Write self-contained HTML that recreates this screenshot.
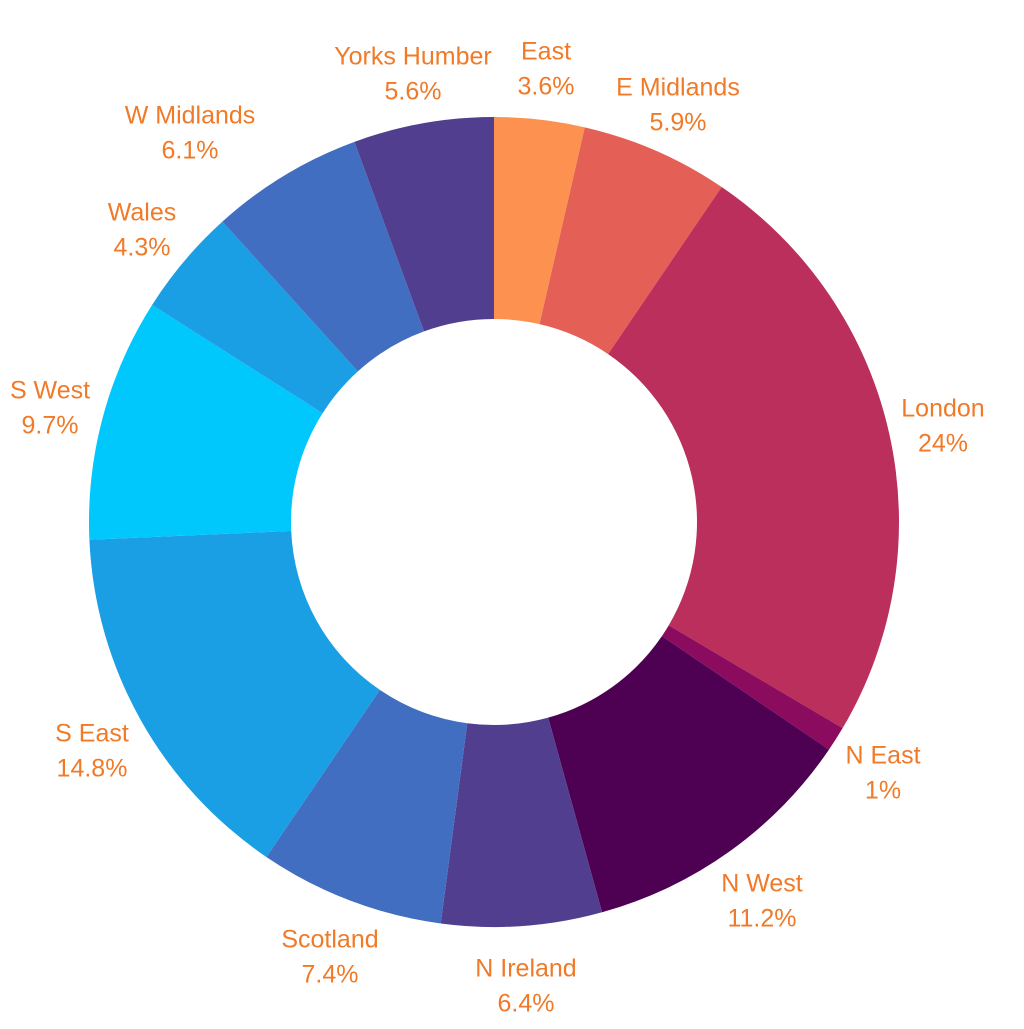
<!DOCTYPE html>
<html><head><meta charset="utf-8"><style>
html,body{margin:0;padding:0;background:#fff;}
svg text{font-family:"Liberation Sans",sans-serif;font-size:25px;fill:#F07A28;text-anchor:middle;dominant-baseline:middle;}
</style></head><body>
<svg id="c" width="1024" height="1024" viewBox="0 0 1024 1024" xmlns="http://www.w3.org/2000/svg">
<g id="s"></g>
<g transform="translate(0,3)">
<text x="413" y="55">Yorks Humber</text><text x="413" y="90">5.6%</text>
<text x="546" y="50">East</text><text x="546" y="85">3.6%</text>
<text x="678" y="86">E Midlands</text><text x="678" y="121">5.9%</text>
<text x="190" y="114">W Midlands</text><text x="190" y="149">6.1%</text>
<text x="142" y="211">Wales</text><text x="142" y="246">4.3%</text>
<text x="50" y="389">S West</text><text x="50" y="424">9.7%</text>
<text x="943" y="407">London</text><text x="943" y="442">24%</text>
<text x="883" y="754">N East</text><text x="883" y="789">1%</text>
<text x="762" y="882">N West</text><text x="762" y="917">11.2%</text>
<text x="526" y="967">N Ireland</text><text x="526" y="1002">6.4%</text>
<text x="330" y="938">Scotland</text><text x="330" y="973">7.4%</text>
<text x="92" y="732">S East</text><text x="92" y="767">14.8%</text>
</g>
</svg>
<script>
var d=[[3.6,"#FD9150"],[5.9,"#E45F56"],[24,"#BA2F5C"],[1,"#8B0B5E"],[11.2,"#4E0052"],[6.4,"#523E8E"],[7.4,"#416EC0"],[14.8,"#1B9FE4"],[9.7,"#00C8FC"],[4.3,"#1B9FE4"],[6.1,"#416EC0"],[5.6,"#523E8E"]];
var cx=494,cy=522,R=405,r=203,a=0,g=document.getElementById("s"),h="";
function p(rad,ang){var t=ang/100*2*Math.PI;return [cx+rad*Math.sin(t),cy-rad*Math.cos(t)];}
d.forEach(function(x){var b=a+x[0],l=x[0]>50?1:0;var A=p(R,a),B=p(R,b),C=p(r,b),D=p(r,a);
h+='<path fill="'+x[1]+'" d="M'+A+' A'+R+','+R+' 0 '+l+' 1 '+B+' L'+C+' A'+r+','+r+' 0 '+l+' 0 '+D+'Z"/>';a=b;});
g.innerHTML=h;
</script>
</body></html>
